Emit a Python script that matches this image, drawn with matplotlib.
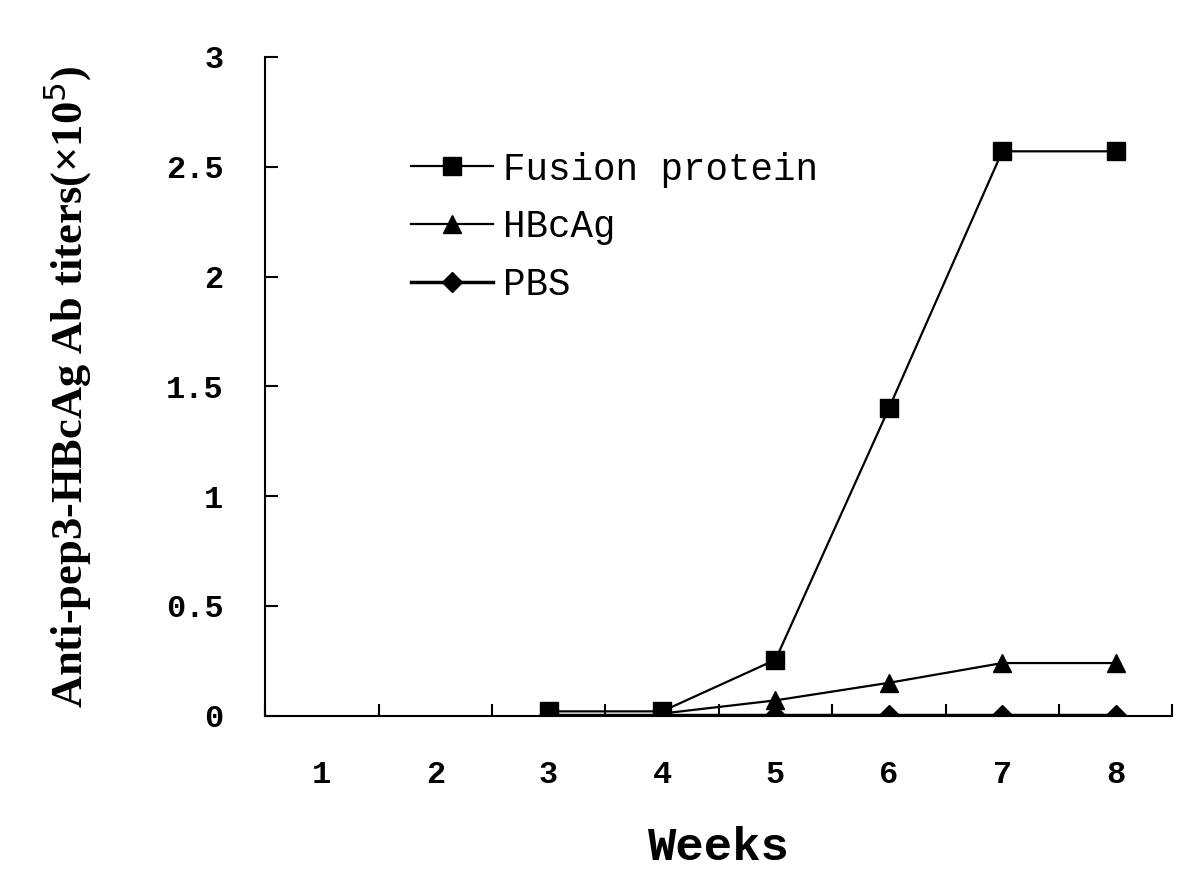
import matplotlib
matplotlib.use("Agg")
import matplotlib.pyplot as plt
from matplotlib.ticker import FixedLocator, NullFormatter

weeks = [1, 2, 3, 4, 5, 6, 7, 8]
fusion_weeks = [3, 4, 5, 6, 7, 8]
fusion = [0.02, 0.02, 0.255, 1.40, 2.57, 2.57]
hbcag_weeks = [4, 5, 6, 7, 8]
hbcag = [0.01, 0.07, 0.15, 0.24, 0.24]
pbs_weeks = [3, 4, 5, 6, 7, 8]
pbs = [0.005, 0.005, 0.005, 0.005, 0.005, 0.005]
yticks = [0, 0.5, 1, 1.5, 2, 2.5, 3]
ytick_labels = ["0", "0.5", "1", "1.5", "2", "2.5", "3"]

fig = plt.figure(figsize=(12, 8.75), dpi=100)
ax = fig.add_axes([0.221, 0.182, 0.756, 0.753])

ax.plot(fusion_weeks, fusion, color="black", lw=1.6, marker="s", ms=13, label="Fusion protein", zorder=3)
ax.plot(hbcag_weeks, hbcag, color="black", lw=1.6, marker="^", ms=13, label="HBcAg", zorder=3)
ax.plot(pbs_weeks, pbs, color="black", lw=2.5, marker="D", ms=10, label="PBS", zorder=4)

ax.set_xlim(0.5, 8.5)
ax.set_ylim(0, 3)
for s in ["top", "right"]:
    ax.spines[s].set_visible(False)
for s in ["left", "bottom"]:
    ax.spines[s].set_linewidth(1.5)

ax.xaxis.set_major_locator(FixedLocator([w + 0.5 for w in [0] + weeks]))
ax.xaxis.set_major_formatter(NullFormatter())
ax.xaxis.set_minor_locator(FixedLocator(weeks))
ax.set_xticklabels([str(w) for w in weeks], minor=True)
ax.tick_params(axis="x", which="major", direction="in", length=9, width=1.5)
ax.tick_params(axis="x", which="minor", length=0, pad=32)
ax.set_yticks(yticks)
ax.set_yticklabels(ytick_labels)
ax.tick_params(axis="y", direction="in", length=9, width=1.5, pad=30)

for lab in ax.get_xticklabels(minor=True) + ax.get_yticklabels():
    lab.set_fontfamily("Liberation Mono")
    lab.set_fontweight("bold")
    lab.set_fontsize(23)

ax.set_xlabel("Weeks", fontfamily="Liberation Mono", fontweight="bold", fontsize=34, labelpad=26)
ax.set_ylabel("Anti-pep3-HBcAg Ab titers(×10$^5$)", fontfamily="Liberation Serif",
              fontweight="bold", fontsize=32, labelpad=52)

leg = ax.legend(loc="upper left", bbox_to_anchor=(0.144, 0.879), frameon=False,
                prop={"family": "Liberation Mono", "size": 27},
                handlelength=2.2, handletextpad=0.27, labelspacing=0.58, borderaxespad=0)

fig.savefig("out.png", dpi=100)
